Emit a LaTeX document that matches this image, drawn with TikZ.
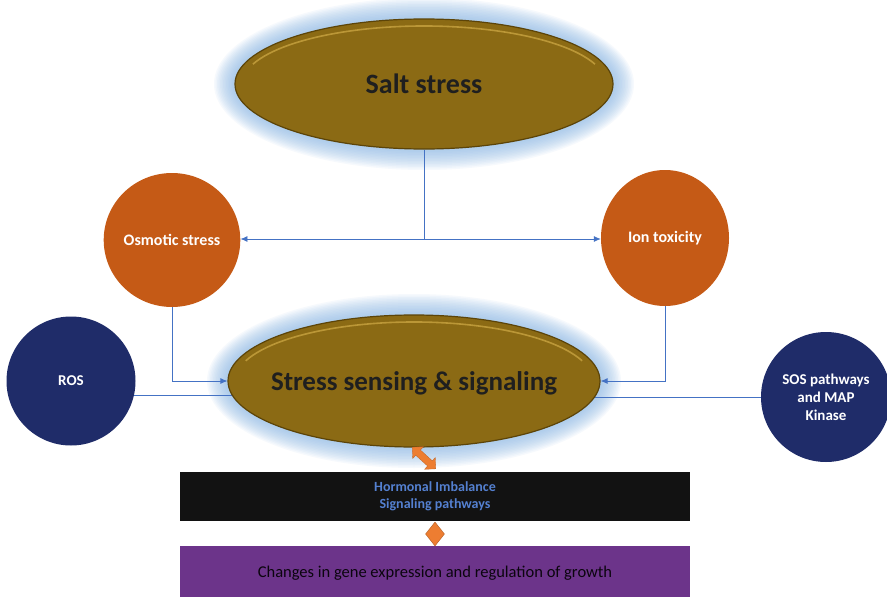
\documentclass[tikz,border=0pt]{standalone}
\usepackage{fontspec}
\setmainfont{Carlito}
\usetikzlibrary{shapes.geometric,arrows.meta,calc}
\definecolor{gold}{RGB}{139,106,20}
\definecolor{golddark}{RGB}{92,68,8}
\definecolor{goldlight}{RGB}{196,160,62}
\definecolor{glowc}{RGB}{140,185,230}
\definecolor{orngc}{RGB}{197,90,22}
\definecolor{navyc}{RGB}{31,44,105}
\definecolor{linec}{RGB}{68,114,196}
\definecolor{accent}{RGB}{237,125,49}
\definecolor{purp}{RGB}{108,52,138}
\definecolor{hormc}{RGB}{84,128,208}
\pgfdeclarelayer{glow}
\pgfdeclarelayer{bg}
\pgfsetlayers{glow,bg,main}
\begin{document}
\begin{tikzpicture}[x=1pt,y=-1pt,
  goldell/.style={ellipse, fill=gold, draw=golddark, line width=1.2pt, inner sep=0pt, text=black!88},
  goldtext/.style={text=black!88, font=\bfseries\fontsize{#1}{30}\selectfont},
  orcirc/.style={ellipse, fill=orngc, inner sep=0pt, text=white, font=\bfseries\fontsize{16}{18}\selectfont},
  navcirc/.style={circle, fill=navyc, inner sep=0pt, text=white, align=center, font=\bfseries\fontsize{15}{18}\selectfont},
  conn/.style={draw=linec, line width=0.8pt},
  arr/.style={conn, -{Latex[length=7pt,width=6pt]}}
]
\useasboundingbox (0,0) rectangle (887,597);

% nodes
\node[goldell, minimum width=378, minimum height=130] (salt) at (424,84) {};
\node[goldtext=28] (salttxt) at (salt.center) {Salt stress};
\node[orcirc, minimum width=130, minimum height=134] (osm) at (172,240) {Osmotic stress};
\node[orcirc, minimum width=128, minimum height=136] (ion) at (665,238) {Ion toxicity};
\node[goldell, minimum width=372, minimum height=132] (sss) at (414,381) {};
\node[navcirc, minimum size=129] (ros) at (71,381) {ROS};
\node[navcirc, minimum size=130] (sos) at (826,397) {SOS pathways\\and MAP\\Kinase};
\node[fill=black!93, minimum width=510, minimum height=49, inner sep=0pt, text=hormc, align=center, font=\bfseries\fontsize{14}{17}\selectfont] (horm) at (435,496) {Hormonal Imbalance\\Signaling pathways};
\node[fill=purp, minimum width=510, minimum height=54, inner sep=0pt, text=black!90!purp, font=\fontsize{16.5}{18}\selectfont] (gene) at (435,573) {Changes in gene expression and regulation of growth};
\node[diamond, fill=accent, draw=accent!75!black, line width=0.4pt, minimum width=19, minimum height=24, inner sep=0pt] (dia) at (435,534) {};

% highlights on gold ellipses
\draw[goldlight, line width=1.6pt, opacity=0.85] ($(salt.center)+({-0.94*182},{-0.342*58})$) arc[start angle=-160, end angle=-20, x radius=182, y radius=58];
\draw[goldlight, line width=1.6pt, opacity=0.85] ($(sss.center)+({-0.94*179},{-0.342*59})$) arc[start angle=-160, end angle=-20, x radius=179, y radius=59];
\node[goldtext=27] (ssstxt) at ([yshift=-2pt]sss.center) {Stress sensing \& signaling};

% glow
\begin{pgfonlayer}{glow}
\fill[white] (0,0) rectangle (887,597);
\foreach \k in {1,...,14} {
  \fill[glowc, opacity=0.075] (salt.center) ellipse [x radius={189+\k*1.5}, y radius={65+\k*1.5}];
  \fill[glowc, opacity=0.075] (sss.center) ellipse [x radius={186+\k*1.5}, y radius={66+\k*1.5}];
}
\end{pgfonlayer}

% connectors
\coordinate (j) at (salt.south |- 0,239);
\draw[conn] (salt.south) -- (j);
\draw[arr] (j) -- (j -| osm.east);
\draw[arr] (j) -- (j -| ion.west);
\draw[arr] (osm.south) |- (sss.west);
\draw[arr] (ion.south) |- (sss.east);
\begin{pgfonlayer}{bg}
\draw[conn] (ros.-13) -- (ros.-13 -| sss.center);
\draw[conn] (sos.west) -- (sos.west -| sss.center);
\end{pgfonlayer}

% orange double block arrow
\fill[accent, draw=accent!80!black, line width=0.3pt]
  (412.2,447.2) -- (412.7,458.5) -- (415.7,455.2) -- (427.6,466.0) -- (424.5,469.3)
  -- (435.8,468.8) -- (435.3,457.5) -- (432.3,460.8) -- (420.4,450.0) -- (423.5,446.7) -- cycle;
\end{tikzpicture}
\end{document}
